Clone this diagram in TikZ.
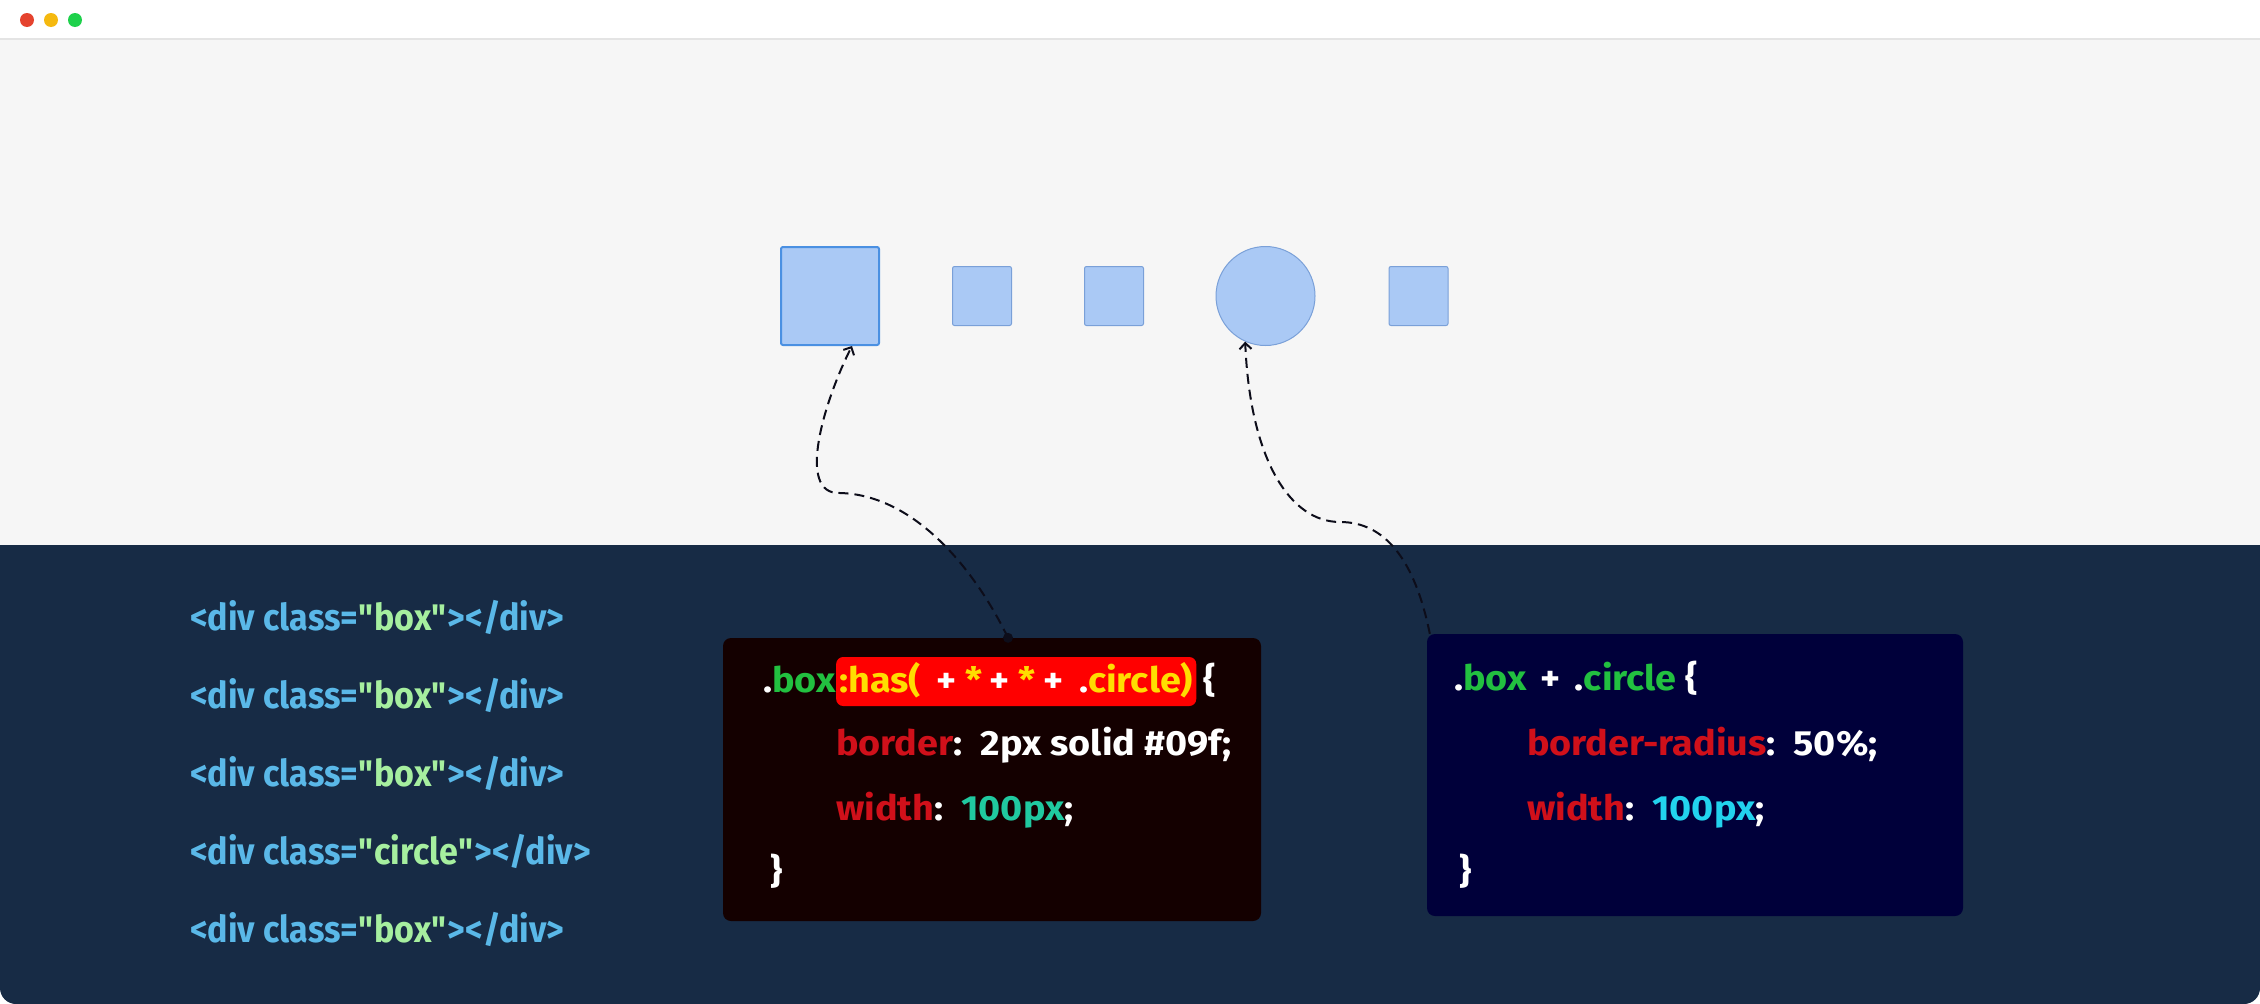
\documentclass[tikz,border=0pt]{standalone}
\usepackage{fontspec}
\setmainfont{Fira Sans}
\newfontfamily\htmlfont{Fira Sans}[FakeStretch=0.92]
\newfontfamily\codefont{Fira Sans}[FakeStretch=1.08]
\usetikzlibrary{arrows.meta}
\definecolor{topbg}{HTML}{F6F6F6}
\definecolor{barline}{HTML}{E4E4E4}
\definecolor{panel}{HTML}{172B45}
\definecolor{dotred}{HTML}{E5432E}
\definecolor{dotyel}{HTML}{F5B90F}
\definecolor{dotgrn}{HTML}{1ED14B}
\definecolor{boxfill}{HTML}{AAC9F5}
\definecolor{boxedge}{HTML}{7AA0D8}
\definecolor{bigedge}{HTML}{4A90E2}
\definecolor{codeAbg}{HTML}{140000}
\definecolor{codeBbg}{HTML}{00003A}
\definecolor{tagblue}{HTML}{5AB8E8}
\definecolor{attgrn}{HTML}{A6EF9F}
\definecolor{selgrn}{HTML}{22C040}
\definecolor{hlred}{HTML}{FF0000}
\definecolor{hlyel}{HTML}{FFDD00}
\definecolor{propred}{HTML}{D0101A}
\definecolor{tealv}{HTML}{20C9A0}
\definecolor{cyanv}{HTML}{22D3EE}
\definecolor{linkcol}{HTML}{0D0D1A}

\begin{document}
\begin{tikzpicture}[x=1pt,y=-1pt,
  divbox/.style={draw=boxedge, fill=boxfill, line width=1pt, rounded corners=2pt, minimum size=59pt, inner sep=0pt},
  card/.style={rounded corners=8pt, inner sep=0pt},
  htmlline/.style={anchor=base west, inner sep=0pt, font=\htmlfont\fontsize{37}{44}\selectfont\bfseries, text=tagblue},
  codeline/.style={anchor=base west, inner sep=0pt, font=\codefont\fontsize{35}{42}\selectfont\bfseries, text=white},
  link/.style={draw=linkcol, line width=2pt, dash pattern=on 10pt off 6pt, -{Straight Barb[length=6pt,width=12pt,line width=2pt]}}]
\useasboundingbox (0,0) rectangle (2260,1004);
% Window: title bar, page and code panel
\fill[white] (0,0) rectangle (2260,1004);
\fill[topbg] (0,39) rectangle (2260,545);
\draw[barline, line width=1.5pt] (0,39) -- (2260,39);
\fill[panel, rounded corners=16pt] (0,545) rectangle (2260,1004);
\fill[panel] (0,545) rectangle (2260,600);
\foreach \c [count=\i] in {dotred,dotyel,dotgrn}
  \fill[\c] ({3+24*\i},20) circle (7pt);
% The five divs
\node[divbox, minimum size=98pt, draw=bigedge, line width=2pt] (box1) at (830,296) {};
\node[divbox] (box2) at (982,296) {};
\node[divbox] (box3) at (1114,296) {};
\node[divbox, circle, minimum size=99pt] (box4) at (1265.5,296) {};
\node[divbox] (box5) at (1418.5,296) {};
% HTML source
\foreach \cls [count=\i] in {box,box,box,circle,box}
  \node[htmlline] (div\i) at (190,{552+78*\i})
    {<div class=\textcolor{attgrn}{\textquotedbl\cls\textquotedbl}></div>};
% First rule
\node[card, fill=codeAbg, minimum width=538pt, minimum height=283pt] (codeA) at (992,779.5) {};
\node[codeline] (selA) at (763,692) {.\textcolor{selgrn}{box}};
\node[codeline, fill=hlred, rounded corners=7pt, inner xsep=3pt, inner ysep=7pt, text height=28pt, text depth=7pt, text=hlyel] (hasA) at (selA.base east)
  {:has(\hspace{16pt}\textcolor{white}{+}\hspace{8pt}*\hspace{8pt}\textcolor{white}{+}\hspace{8pt}*\hspace{8pt}\textcolor{white}{+}\hspace{16pt}\textcolor{white}{.}circle)};
\node[codeline] (openA) at ([xshift=7pt]hasA.base east) {\{};
\node[codeline] (bordA) at (836,755) {\textcolor{propred}{border}:\ \ 2px solid \#09f;};
\node[codeline] (widA) at (836,820) {\textcolor{propred}{width}:\ \ \textcolor{tealv}{100px};};
\node[codeline] (endA) at (770,883) {\}};
% Second rule
\node[card, fill=codeBbg, minimum width=536pt, minimum height=282pt] (codeB) at (1695,775) {};
\node[codeline] (selB) at (1454,690) {.\textcolor{selgrn}{box}\hspace{14pt}+\hspace{14pt}.\textcolor{selgrn}{circle} \{};
\node[codeline] (bordB) at (1527,755) {\textcolor{propred}{border-radius}:\ \ 50\%;};
\node[codeline] (widB) at (1527,820) {\textcolor{propred}{width}:\ \ \textcolor{cyanv}{100px};};
\node[codeline] (endB) at (1459,883) {\}};
% Links from the rules to the divs they style
\coordinate (srcA) at ([xshift=16pt]codeA.north);
\coordinate (bendA) at (840,493);
\coordinate (srcB) at ([xshift=3pt]codeB.north west);
\coordinate (bendB) at (1340,522);
\fill[linkcol] (srcA) circle (5pt);
\draw[link] (srcA) .. controls +(-33,-68) and +(75,2) .. (bendA) .. controls +(-45,2) and +(-27,53) .. ([xshift=22pt]box1.south);
\draw[link] (srcB) .. controls +(-15,-74) and +(45,0) .. (bendB) .. controls +(-50,0) and +(5,118) .. (box4.-114);
\end{tikzpicture}
\end{document}
